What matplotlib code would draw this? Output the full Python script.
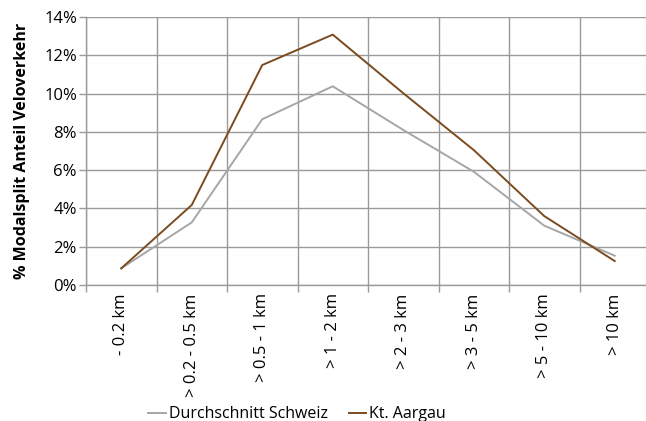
import numpy as np
import matplotlib
matplotlib.use("Agg")
import matplotlib.pyplot as plt

plt.rcParams['font.family'] = ['Open Sans', 'DejaVu Sans']

# distance classes and modal split of bicycle traffic (%)
categories = ['- 0.2 km', '> 0.2 - 0.5 km', '> 0.5 - 1 km', '> 1 - 2 km',
              '> 2 - 3 km', '> 3 - 5 km', '> 5 - 10 km', '> 10 km']
schweiz = [0.87, 3.27, 8.66, 10.38, 8.1, 5.92, 3.1, 1.53]
aargau = [0.87, 4.18, 11.49, 13.08, 10.02, 7.05, 3.6, 1.25]

grid_col = '#9a9a9a'

fig = plt.figure(figsize=(6.46, 4.21), dpi=100)
ax = fig.add_axes([86/646, 1 - 285/421, 564/646, 268/421])

x = np.arange(len(categories)) + 0.5
ax.plot(x, schweiz, color='#a6a6a6', lw=1.4, label='Durchschnitt Schweiz')
ax.plot(x, aargau, color='#7b4a1e', lw=1.4, label='Kt. Aargau')

ax.set_xlim(0, len(categories))
ax.set_ylim(0, 14)
ax.set_yticks(np.arange(0, 15, 2))
ax.set_yticklabels([f'{v}%' for v in range(0, 15, 2)], fontsize=12)
ax.set_xticks(x)
ax.set_xticklabels(categories, rotation=90, fontsize=12)
ax.set_xticks(np.arange(0, len(categories) + 1), minor=True)
ax.tick_params(axis='x', which='major', length=0, pad=6)
ax.tick_params(axis='x', which='minor', length=5, color=grid_col, width=1)
ax.tick_params(axis='y', length=5, color=grid_col, width=1, pad=1.5)

ax.grid(True, axis='y', which='major', color=grid_col, lw=1)
ax.grid(True, axis='x', which='minor', color=grid_col, lw=1)
ax.set_axisbelow(True)
for side in ['top', 'right']:
    ax.spines[side].set_visible(False)
for side in ['left', 'bottom']:
    ax.spines[side].set_color(grid_col)
    ax.spines[side].set_linewidth(1)

ax.set_ylabel('% Modalsplit Anteil Veloverkehr', fontsize=11.5,
              fontweight='bold', labelpad=10)

fig.legend(loc='center', bbox_to_anchor=(0.46, 0.016), ncol=2, frameon=False,
           fontsize=11.5, handlelength=1.1, handletextpad=0.2, columnspacing=1.3)

fig.savefig('out.png', dpi=100)
